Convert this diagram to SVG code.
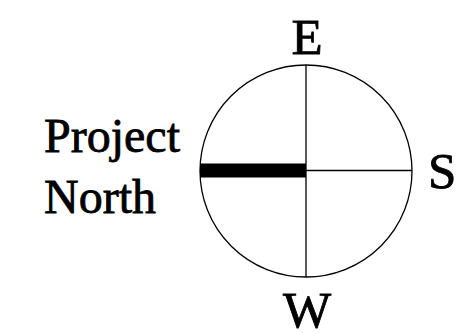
<svg xmlns="http://www.w3.org/2000/svg" width="472" height="333" viewBox="0 0 472 333">
<style>
.t{font-family:"Liberation Serif","Times New Roman",serif;fill:#000;stroke:#000;stroke-width:0.8}
.l{stroke:#000;stroke-width:1.3;fill:none}
</style>
<rect width="472" height="333" fill="#fff"/>
<g id="compass">
<circle class="l" cx="306" cy="171" r="106"/>
<line class="l" x1="306" y1="65" x2="306" y2="277"/>
<line class="l" x1="306" y1="170.5" x2="412" y2="170.5"/>
<rect x="200" y="163.5" width="106" height="14" fill="#000"/>
</g>
<g id="labels">
<text class="t" x="307" y="54" font-size="51" text-anchor="middle">E</text>
<text class="t" x="307" y="327" font-size="51" text-anchor="middle">W</text>
<text class="t" x="428" y="188" font-size="51">S</text>
<text class="t" x="44" y="152" font-size="48">Project</text>
<text class="t" x="44" y="213" font-size="48">North</text>
</g>
</svg>
